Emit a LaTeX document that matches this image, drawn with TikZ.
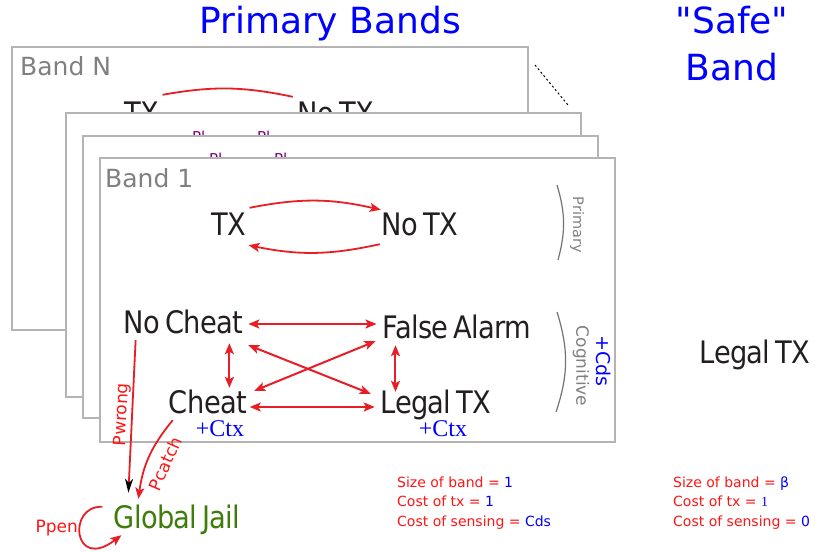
\documentclass[tikz,border=0pt]{standalone}
\usepackage{fontspec}
\setmainfont{DejaVu Sans}
\newfontfamily\statefont[FakeStretch=0.88,LetterSpace=-2,WordSpace=0.6]{DejaVu Sans}
\newfontfamily\ctxfont{Liberation Serif}
\usetikzlibrary{arrows.meta,calc}

\definecolor{arrowred}{RGB}{232,30,38}
\definecolor{textred}{RGB}{255,20,20}
\definecolor{framegray}{RGB}{180,180,180}
\definecolor{labelgray}{RGB}{128,128,128}
\definecolor{jailgreen}{RGB}{62,125,10}
\definecolor{statedark}{RGB}{35,31,32}
\definecolor{probpurple}{RGB}{128,0,128}

\newcommand{\px}[1]{\fontsize{#1}{#1}\selectfont}

\begin{document}
\begin{tikzpicture}[x=1pt,y=-1pt,
    >={Stealth[length=11pt,width=9pt,inset=2.5pt]},
    state/.style={font=\statefont\px{31}, text=statedark, inner sep=0pt, text height=23pt, text depth=0pt, anchor=base},
    band/.style={draw=framegray, line width=1.3pt, fill=white},
    bandname/.style={font=\px{25}, text=labelgray, inner sep=0pt, anchor=base west},
    title/.style={font=\fontsize{36}{47}\selectfont, text=blue, align=center, anchor=base},
    trans/.style={draw=arrowred, line width=1.8pt, ->},
    pair/.style={draw=arrowred, line width=2pt, <->},
    prob/.style={font=\px{17}, text=textred, inner sep=1pt},
    probtag/.style={font=\px{15}, text=probpurple, inner sep=0pt, anchor=base west},
    ctx/.style={font=\ctxfont\px{24}, text=blue, inner sep=0pt, anchor=base},
    bracket/.style={draw=labelgray!90!black, line width=1.2pt},
    costs/.style={font=\fontsize{14}{19.5}\selectfont, text=textred, align=left, inner sep=0pt, anchor=base west}]

    \useasboundingbox (0,0) rectangle (830,552);

    \node[title] (primtitle) at (330,33) {Primary Bands};
    % last line sits on the base anchor
    \node[title] (safetitle) at (732,80) {\textquotedbl Safe\textquotedbl\\Band};

    % back band
    \draw[band] (12,47) rectangle (528,330);
    \node[bandname] (bandN) at (20,75) {Band N};
    \node[state] (txN) at (142,124) {TX};
    \node[state] (notxN) at (336,124) {No TX};
    \draw[arrowred, line width=1.8pt] ($(txN.north east)+(3,-6)$) to[bend left=11] ($(notxN.north west)+(-5,-4)$);
    \draw[dash pattern=on 2pt off 2.5pt, line width=1pt] (535,65) -- (568,105);

    \draw[band] (66,113) rectangle (581,397);
    \node[probtag] (plA) at (192,142) {Pl};
    \node[probtag] (plB) at (257,142) {Pl};
    \draw[band] (83,136) rectangle (598,418);
    \node[probtag] (plC) at (209,164) {Pl};
    \node[probtag] (plD) at (274,164) {Pl};

    % band 1
    \draw[band] (100,158) rectangle (615,442);
    \node[bandname] (bandone) at (105,187) {Band 1};

    \node[state] (tx) at (229,235) {TX};
    \node[state] (notx) at (420,235) {No TX};
    \draw[trans] ($(tx.north east)+(3,-4)$) to[bend left=12] ($(notx.north west)+(-1,-2)$);
    \draw[trans] ($(notx.south west)+(-2,9)$) to[bend left=12] ($(tx.south east)+(2,10)$);

    \node[state] (nocheat) at (183.5,333) {No Cheat};
    \node[state] (falsealarm) at (457,338) {False Alarm};
    \node[state] (cheat) at (208,413) {Cheat};
    \node[state] (legaltx) at (436,413) {Legal TX};
    \node[ctx] (cheatctx) at (220,436) {+Ctx};
    \node[ctx] (legalctx) at (443,436) {+Ctx};

    \draw[pair] ($(nocheat.east)+(5,2.5)$) -- ($(nocheat.east -| falsealarm.west)+(-6,2.5)$);
    \draw[pair] ($(cheat.east)+(2.5,5.5)$) -- ($(cheat.east -| legaltx.west)+(-6,5.5)$);
    \draw[pair] ($(nocheat.south east)+(-14,10)$) -- ($(nocheat.south east |- cheat.north)+(-14,-2)$);
    \draw[pair] ($(falsealarm.south west)+(13,7)$) -- ($(falsealarm.south west |- legaltx.north)+(13,2)$);
    \draw[pair] ($(nocheat.south east)+(5,12)$) -- ($(legaltx.north west)+(-10,4)$);
    \draw[pair] ($(cheat.north east)+(7,1)$) -- ($(falsealarm.south west)+(-7,3)$);

    \draw[bracket] (557,185) to[bend left=16] (558,260);
    \draw[bracket] (557,312) to[bend left=18] (556,412);
    \node[font=\px{14.5}, text=labelgray, rotate=-90] (primlabel) at (577,225) {Primary};
    \node[font=\px{17}, text=labelgray, rotate=-90] (coglabel) at (581,366) {Cognitive};
    \node[font=\px{19}, text=blue, rotate=-90] (cdslabel) at (604,361) {+Cds};

    % safe band
    \node[state] (safetx) at (755,363) {Legal TX};

    % jail
    \node[state, text=jailgreen] (jail) at (177,528) {Global Jail};
    \draw[arrowred, line width=1.8pt, -{Stealth[length=14pt,width=8pt,inset=4pt,color=black]}]
        ($(nocheat.south west)+(12,7)$) -- node[prob, sloped, above, pos=0.49] (pwrong) {Pwrong} ($(jail.north west)+(15,-12)$);
    \draw[trans] ($(cheat.south west)+(4,7)$) to[bend right=16] node[prob, sloped, below=9pt, pos=0.5] (pcatch) {Pcatch} ($(jail.north west)+(25,-6)$);
    \draw[trans] ($(jail.north west)+(-11,2)$) .. controls ($(jail.west)+(-46.5,-11.5)$) and ($(jail.west)+(-40.5,55.5)$) .. node[prob, left, pos=0.42] (ppen) {Ppen} ($(jail.south west)+(8,7)$);

    \node[costs] (primcosts) at (397,526) {Size of band = \textcolor{blue}{1}\\Cost of tx = \textcolor{blue}{1}\\Cost of sensing = \textcolor{blue}{Cds}};
    \node[costs] (safecosts) at (673,526) {Size of band = \textcolor{blue}{β}\\Cost of tx = \textcolor{blue}{\ctxfont 1}\\Cost of sensing = \textcolor{blue}{0}};
\end{tikzpicture}
\end{document}
